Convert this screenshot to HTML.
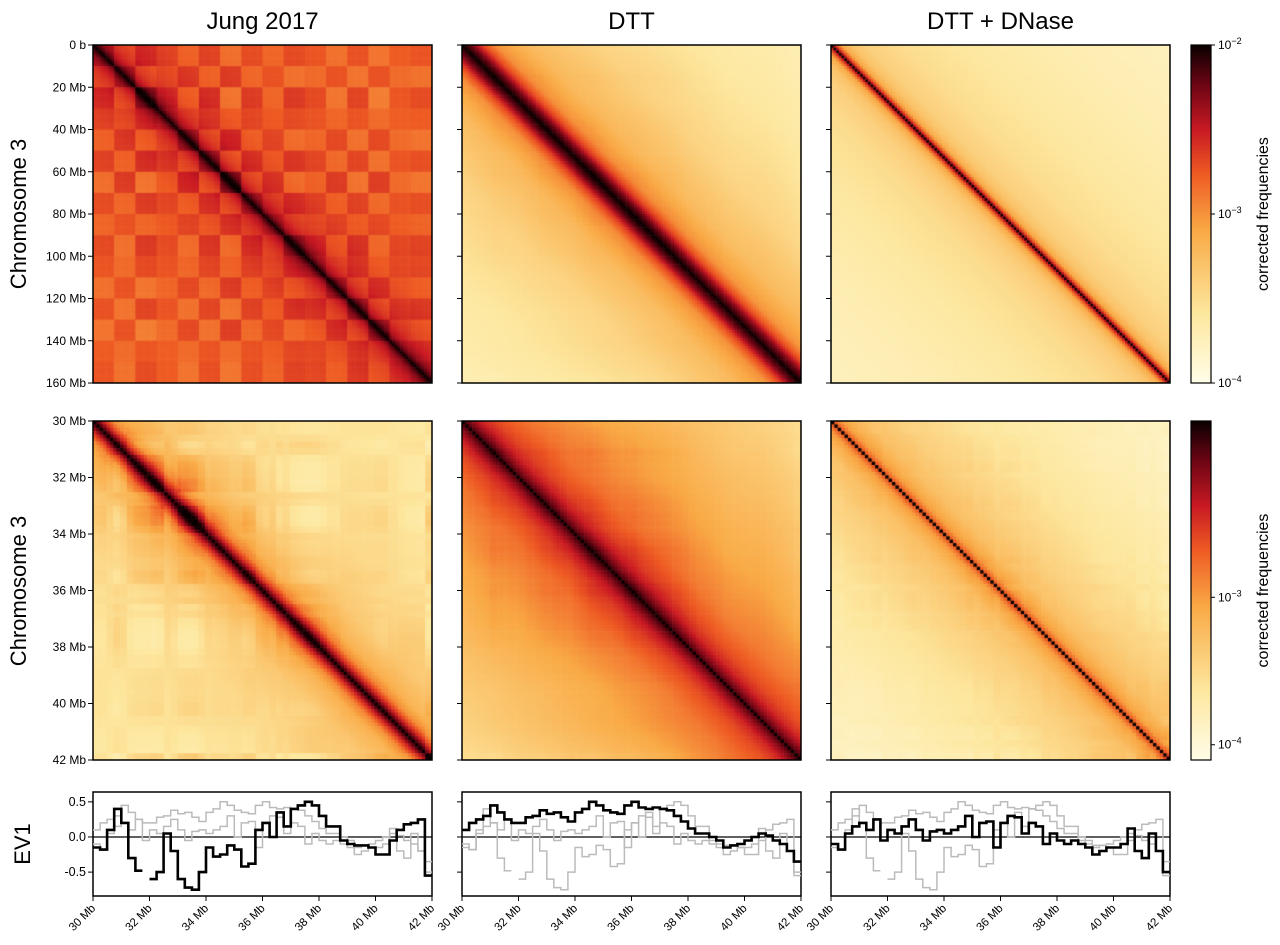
<!DOCTYPE html>
<html><head><meta charset="utf-8"><style>
body{margin:0;background:#fff;width:1280px;height:945px;position:relative;overflow:hidden;font-family:"Liberation Sans",sans-serif}
canvas{position:absolute}
svg{position:absolute;left:0;top:0}
</style></head><body>
<canvas id="h0" style="left:93px;top:45px" width="339" height="338"></canvas>
<canvas id="h1" style="left:462px;top:45px" width="339" height="338"></canvas>
<canvas id="h2" style="left:831px;top:45px" width="339" height="338"></canvas>
<canvas id="h3" style="left:93px;top:421px" width="339" height="339"></canvas>
<canvas id="h4" style="left:462px;top:421px" width="339" height="339"></canvas>
<canvas id="h5" style="left:831px;top:421px" width="339" height="339"></canvas>
<svg id="s" width="1280" height="945"></svg>
<script>
// ---- data ----
const evPositions=[30,30.25,30.5,30.75,31,31.25,31.5,31.75,32,32.25,32.5,32.75,33,33.25,33.5,33.75,34,34.25,34.5,34.75,35,35.25,35.5,35.75,36,36.25,36.5,36.75,37,37.25,37.5,37.75,38,38.25,38.5,38.75,39,39.25,39.5,39.75,40,40.25,40.5,40.75,41,41.25,41.5,41.75];
const evJung=[-0.15,-0.18,0.1,0.4,0.2,-0.3,-0.48,null,-0.6,-0.5,0.05,-0.2,-0.6,-0.72,-0.75,-0.5,-0.15,-0.28,-0.25,-0.12,-0.18,-0.42,-0.38,0.1,0.2,0.0,0.35,0.15,0.4,0.45,0.5,0.45,0.3,0.15,0.15,-0.05,-0.1,-0.12,-0.12,-0.15,-0.25,-0.25,-0.05,0.1,0.18,0.2,0.25,-0.55];
const evDTT=[0.1,0.2,0.25,0.3,0.45,0.35,0.25,0.2,0.2,0.28,0.3,0.38,0.33,0.35,0.28,0.22,0.35,0.4,0.5,0.45,0.38,0.35,0.33,0.45,0.5,0.42,0.4,0.42,0.4,0.38,0.3,0.22,0.12,0.05,0.05,0.0,-0.05,-0.15,-0.12,-0.1,-0.05,0.0,0.05,0.02,-0.05,-0.1,-0.2,-0.35];
const evDNase=[-0.1,-0.18,0.05,0.15,0.2,0.1,0.25,-0.05,0.1,0.05,0.15,0.25,0.1,-0.05,0.08,0.1,0.05,0.1,0.15,0.3,0.0,0.2,0.22,-0.15,0.2,0.3,0.28,0.05,0.2,0.15,-0.1,0.05,-0.05,-0.1,-0.05,-0.1,-0.15,-0.25,-0.2,-0.15,-0.15,-0.1,0.12,-0.2,-0.3,0.05,-0.2,-0.5];
const decayDist=[0,0.01,0.03,0.06,0.1,0.2,0.4,0.7,1.0];
const decayJungTop=[1,0.9,0.8,0.73,0.69,0.65,0.62,0.6,0.6];
const decayDTTTop=[1,0.95,0.86,0.66,0.5,0.38,0.28,0.2,0.15];
const decayDNaseTop=[1,0.7,0.45,0.35,0.3,0.25,0.2,0.15,0.12];
const decayJungZoom=[1,0.9,0.72,0.52,0.42,0.33,0.25,0.22,0.2];
const decayDTTZoom=[1,0.9,0.82,0.72,0.65,0.55,0.45,0.35,0.25];
const decayDNaseZoom=[1,0.6,0.48,0.42,0.36,0.3,0.22,0.15,0.1];
const jungTopStripes=[0.5,-0.5,0.8,0.3,-0.6,0.6,-0.8,0.5,-0.3,0.7,0.4,-0.5,0.6,-0.6,0.3,0.5];
const topTicks=["0 b","20 Mb","40 Mb","60 Mb","80 Mb","100 Mb","120 Mb","140 Mb","160 Mb"];
const zoomTicks=["30 Mb","32 Mb","34 Mb","36 Mb","38 Mb","40 Mb","42 Mb"];
const evTicks=["0.5","0.0","-0.5"];
const evTickVals=[0.5,0,-0.5];

// ---- colormap ----
const cmap=[[0,[255,253,232]],[0.2,[253,232,160]],[0.45,[249,170,70]],[0.62,[238,90,35]],[0.75,[200,25,35]],[0.88,[110,5,20]],[1,[10,0,0]]];
function col(v){v=Math.max(0,Math.min(1,v));for(let k=1;k<cmap.length;k++){if(v<=cmap[k][0]){const a=cmap[k-1],b=cmap[k],t=(v-a[0])/(b[0]-a[0]);return 'rgb('+a[1].map((c,i)=>Math.round(c+(b[1][i]-c)*t)).join(',')+')';}}return 'rgb(10,0,0)';}
function interp(xs,ys,x){for(let k=1;k<xs.length;k++){if(x<=xs[k]){const t=(x-xs[k-1])/(xs[k]-xs[k-1]);return ys[k-1]+(ys[k]-ys[k-1])*t;}}return ys[ys.length-1];}
function evAt(arr,f){const i=Math.min(arr.length-1,Math.floor(f*arr.length));let v=arr[i];if(v===null)v=arr[i-1];return v;}
function heat(id,decay,n,comp,k){
  const c=document.getElementById(id),g=c.getContext('2d'),w=c.width/n,h=c.height/n;
  for(let i=0;i<n;i++)for(let j=0;j<n;j++){
    const d=Math.abs(i-j)/n;let v=interp(decayDist,decay,d);
    if(comp){v+=k*evAt(comp,(i+0.5)/n)*evAt(comp,(j+0.5)/n);}
    g.fillStyle=col(v);g.fillRect(i*w,j*h,w+0.6,h+0.6);
  }
}
heat('h0',decayJungTop,128,jungTopStripes,0.12);
heat('h1',decayDTTTop,128,evDTT,0.1);
heat('h2',decayDNaseTop,128,null,0);
heat('h3',decayJungZoom,100,evJung,0.25);
heat('h4',decayDTTZoom,100,evDTT,0.2);
heat('h5',decayDNaseZoom,100,evDNase,0.25);

// ---- overlay ----
const S=document.getElementById('s'),NS='http://www.w3.org/2000/svg';
function el(t,a,txt){const e=document.createElementNS(NS,t);for(const k in a)e.setAttribute(k,a[k]);if(txt!==undefined)e.textContent=txt;S.appendChild(e);return e;}
const cols=[93,462,831],PW=339;
const titles=["Jung 2017","DTT","DTT + DNase"];
titles.forEach((t,i)=>{const e=el('text',{x:cols[i]+PW/2,y:29,'font-size':24,'text-anchor':'middle'},t);

});
[[45,338,topTicks],[421,339,zoomTicks]].forEach(([top,H,ticks])=>{
  cols.forEach((x,ci)=>{
    const r=el('rect',{x:x,y:top,width:PW,height:H,fill:'none',stroke:'#000','stroke-width':1.5});
    
    
    ticks.forEach((t,k)=>{const y=top+k*H/(ticks.length-1);
      el('line',{x1:x-5,x2:x,y1:y,y2:y,stroke:'#000','stroke-width':1});
      if(ci===0){const e=el('text',{x:x-7,y:y+4,'font-size':12,'text-anchor':'end'},t);
        
        }
    });
  });
});
[214,591].forEach(cy=>{const e=el('text',{x:26,y:cy,'font-size':22,'text-anchor':'middle',transform:'rotate(-90 26 '+cy+')'},'Chromosome 3');

});
const defs=el('defs',{});const lg=document.createElementNS(NS,'linearGradient');lg.setAttribute('id','cg');lg.setAttribute('x1',0);lg.setAttribute('y1',1);lg.setAttribute('x2',0);lg.setAttribute('y2',0);
cmap.forEach(s=>{const st=document.createElementNS(NS,'stop');st.setAttribute('offset',s[0]);st.setAttribute('stop-color','rgb('+s[1].join(',')+')');lg.appendChild(st);});defs.appendChild(lg);
[[45,338,[[0,'10','-2'],[0.5,'10','-3'],[1,'10','-4']]],[421,339,[[0.52,'10','-3'],[0.955,'10','-4']]]].forEach(([top,H,tk],bi)=>{
  const r=el('rect',{x:1191,y:top,width:20,height:H,fill:'url(#cg)',stroke:'#000','stroke-width':1.2});
  
  
  tk.forEach(([f,b,e])=>{const y=top+f*H;el('line',{x1:1211,x2:1215,y1:y,y2:y,stroke:'#000'});
    const t=el('text',{x:1218,y:y+4,'font-size':12},b);const ts=document.createElementNS(NS,'tspan');ts.setAttribute('dy',-5);ts.setAttribute('font-size',9);ts.textContent='\u2212'+e.slice(1);t.appendChild(ts);
    
    });
  const cy=top+H/2;const l=el('text',{x:1268,y:cy,'font-size':16,'text-anchor':'middle',transform:'rotate(-90 1268 '+cy+')'},'corrected frequencies');
  
  
});
const evTop=792,evH=104,evMax=0.64,evMin=-0.84;
const yS=v=>evTop+(evMax-v)/(evMax-evMin)*evH;
const series=[evJung,evDTT,evDNase];
cols.forEach((x0,pi)=>{
  const xS=m=>x0+(m-30)/12*PW;
  const fr=el('rect',{x:x0,y:evTop,width:PW,height:evH,fill:'#fff',stroke:'#000','stroke-width':1.5});
  
  
  el('line',{x1:x0,x2:x0+PW,y1:yS(0),y2:yS(0),stroke:'#000','stroke-width':1.2});
  const order=[0,1,2].filter(k=>k!==pi).concat([pi]);
  order.forEach(k=>{const arr=series[k];let d='',pen=false;
    arr.forEach((v,i)=>{if(v===null){pen=false;return;}const xa=xS(evPositions[i]),xb=xS(evPositions[i]+0.25),y=yS(v);
      d+=(pen?'L':'M')+xa.toFixed(1)+' '+y.toFixed(1)+'L'+xb.toFixed(1)+' '+y.toFixed(1);pen=true;});
    const p=el('path',{d:d,fill:'none',stroke:k===pi?'#000':'#bbb','stroke-width':k===pi?2.6:1.5});
    
    
  });
  zoomTicks.forEach((t,k)=>{const x=x0+k*PW/6;el('line',{x1:x,x2:x,y1:evTop+evH,y2:evTop+evH+5,stroke:'#000'});
    const e=el('text',{x:x+3,y:evTop+evH+13,'font-size':11.5,'text-anchor':'end',transform:'rotate(-45 '+(x+3)+' '+(evTop+evH+13)+')'},t);
    
    });
  evTickVals.forEach((v,k)=>{const y=yS(v);el('line',{x1:x0-5,x2:x0,y1:y,y2:y,stroke:'#000'});
    if(pi===0){const e=el('text',{x:x0-7,y:y+4,'font-size':12.5,'text-anchor':'end'},evTicks[k]);
      
      }});
});
const ev=el('text',{x:30,y:844,'font-size':22,'text-anchor':'middle',transform:'rotate(-90 30 844)'},'EV1');


</script>
</body></html>
